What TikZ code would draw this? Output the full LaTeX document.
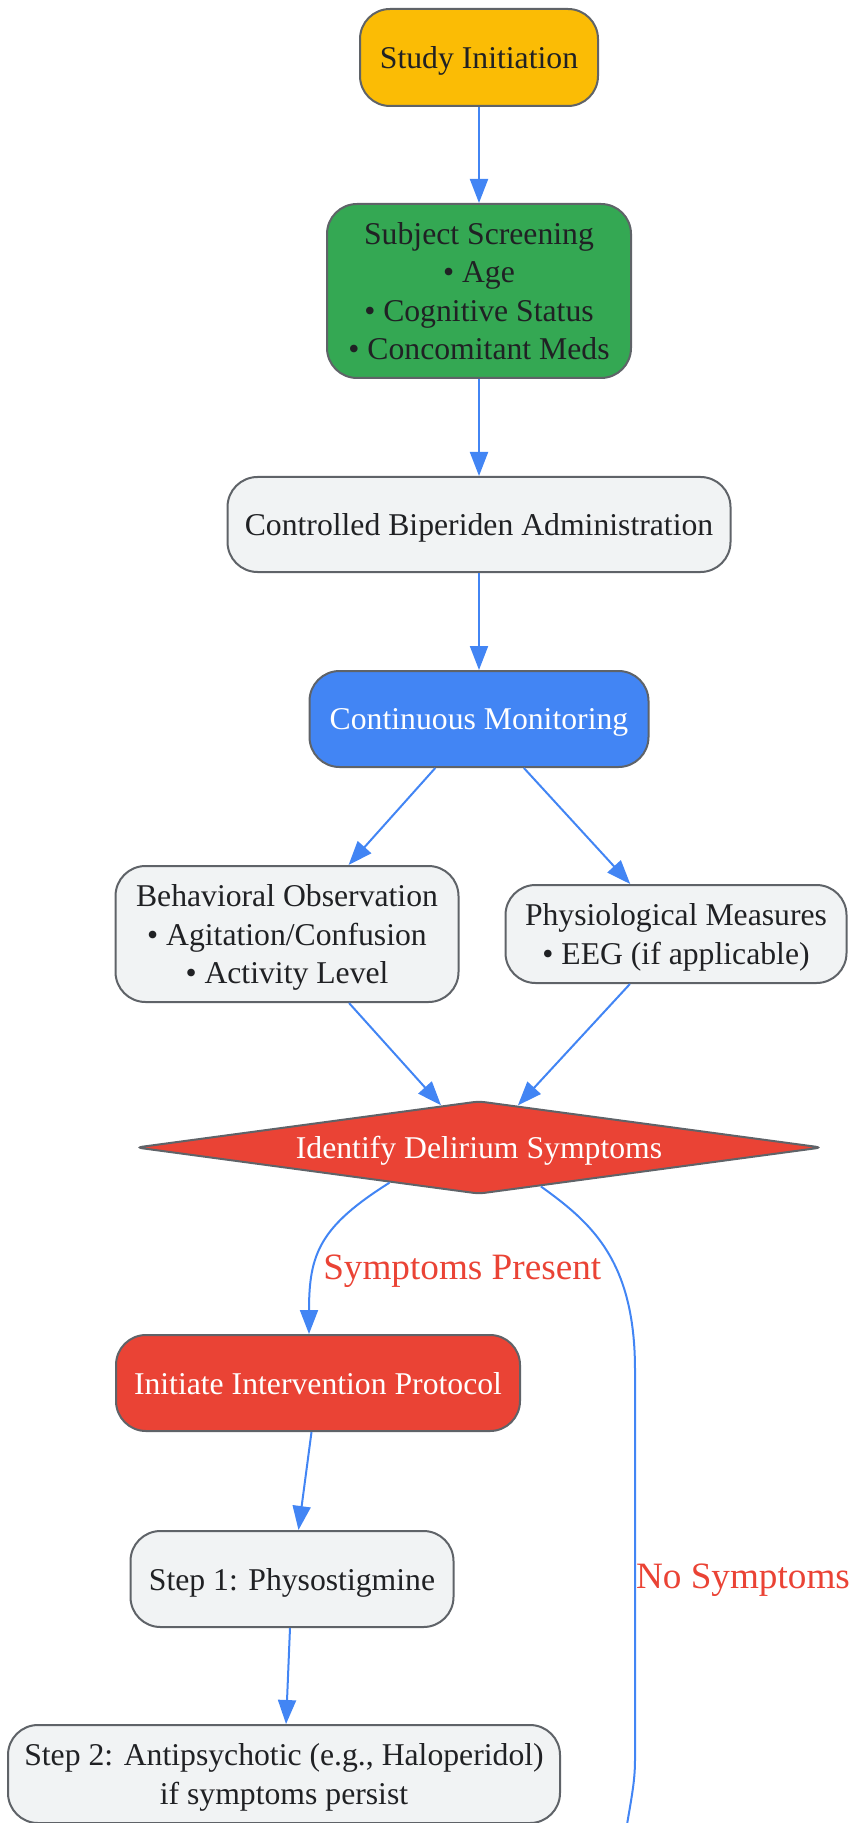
\documentclass[tikz,border=0pt]{standalone}
\usepackage{fontspec}
\setmainfont{Liberation Serif}
\usetikzlibrary{shapes.geometric, positioning, calc}
\usetikzlibrary{arrows.meta}
\tikzset{>={Triangle[width=9pt,length=12pt]}}
\definecolor{flowblue}{HTML}{4285F4}
\definecolor{flowred}{HTML}{EA4335}
\definecolor{flowgreen}{HTML}{34A853}
\definecolor{flowyellow}{HTML}{FBBC05}
\definecolor{flowgray}{HTML}{F1F3F4}
\definecolor{flowborder}{HTML}{5F6368}
\definecolor{flowtext}{HTML}{202124}

\begin{document}
\begin{tikzpicture}[ box/.style={rectangle, rounded corners=15pt, draw=flowborder, line width=1pt, fill=flowgray, text=flowtext, align=center, font=\fontsize{15.85}{19.25}\selectfont, inner sep=2pt, text depth=0pt},
    decision/.style={diamond, aspect=7.4, rounded corners=3pt, draw=flowborder, line width=1pt, fill=flowred, text=white, font=\fontsize{15.85}{19.25}\selectfont, inner sep=0pt, text depth=0pt, minimum width=343pt, minimum height=46.5pt},
    link/.style={->, draw=flowblue, line width=1pt},
    linklabel/.style={text=flowred, font=\fontsize{18.6}{22}\selectfont, inner sep=0pt} ]

    \useasboundingbox (0,0) rectangle (425pt,-911.5pt);

    %Nodes
    \node[box, fill=flowyellow, minimum width=119pt, minimum height=48.5pt] (start) at (239.5pt,-28.75pt) {Study Initiation};
    \node[box, fill=flowgreen, text depth=, minimum width=152pt, minimum height=87pt] (screening) [below=48pt of start] {Subject Screening\\• Age\\• Cognitive Status\\• Concomitant Meds};
    \node[box, minimum width=251.5pt, minimum height=47.5pt] (admin) [below=48.5pt of screening] {Controlled Biperiden Administration};
    \node[box, fill=flowblue, text=white, minimum width=169.5pt, minimum height=48pt] (monitor) [below=48.5pt of admin] {Continuous Monitoring};
    \node[box, minimum width=171.5pt, minimum height=68pt] (behav) [below=48.5pt of monitor, xshift=-96pt] {Behavioral Observation\\• Agitation/Confusion\\• Activity Level};
    \node[box, minimum width=170.5pt, minimum height=49pt] (physio) [right=22.5pt of behav] {Physiological Measures\\• EEG (if applicable)};
    \node[decision] (identify) [below=166pt of monitor] {Identify Delirium Symptoms};
    \node[box, fill=flowred, text=white, minimum width=202pt, minimum height=48pt] (intervene) [below=69.5pt of identify, xshift=-80.5pt] {Initiate Intervention Protocol};
    \node[box, minimum width=161.5pt, minimum height=48pt] (step_one) [below=49pt of intervene, xshift=-13pt] {Step 1: Physostigmine};
    \node[box, minimum width=276pt, minimum height=49pt] (step_two) [below=48pt of step_one, xshift=-4pt] {Step 2: Antipsychotic (e.g., Haloperidol)\\if symptoms persist};
    \coordinate (offpage) at (308pt,-950pt);

    %Lines
    \draw[link] (start) -- (screening);
    \draw[link] (screening) -- (admin);
    \draw[link] (admin) -- (monitor);
    \draw[link] (monitor) -- (behav);
    \draw[link] (monitor) -- (physio);
    \draw[link] (behav) -- (identify);
    \draw[link] (physio) -- (identify);
    \draw[link] ($(identify.south)!0.26!(identify.west)$) .. controls +(-35pt,-22pt) and +(0pt,40pt) .. ([xshift=-4.5pt]intervene.north)
        node[linklabel, pos=0.62, anchor=west, xshift=3pt, yshift=-4.5pt] {Symptoms Present};
    \draw[link] ($(identify.south)!0.18!(identify.east)$) .. controls +(25pt,-18pt) and +(0pt,55pt) .. (317.5pt,-685pt)
        -- node[linklabel, pos=0.54, anchor=west] {No Symptoms} (317.5pt,-880pt)
        .. controls (317.5pt,-895pt) and (314pt,-905pt) .. (offpage);
    \draw[link] (intervene) -- (step_one);
    \draw[link] (step_one) -- (step_two);
    \end{tikzpicture}
\end{document}
